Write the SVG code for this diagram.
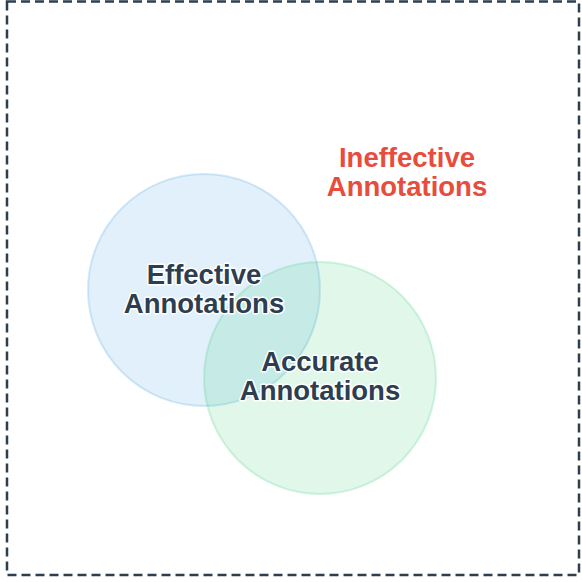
<svg xmlns="http://www.w3.org/2000/svg" width="582" height="582" viewBox="0 0 582 582">
<style>
.lbl{font-family:"Liberation Sans",Arial,sans-serif;font-weight:bold;font-size:27.5px;text-anchor:middle;fill:#2c3e50;stroke:#ffffff;stroke-width:3;paint-order:stroke;stroke-linejoin:round}
.red{fill:#e74c3c;stroke:none}
</style>
<rect x="0" y="0" width="582" height="582" fill="#ffffff"/>
<g id="frame"><rect x="7" y="1.5" width="572" height="573.5" fill="none" stroke="#2c3e50" stroke-width="2.5" stroke-dasharray="9,5"/></g>
<g id="effective">
<circle cx="204" cy="290" r="116" fill="#3498db" fill-opacity="0.15" stroke="#3498db" stroke-opacity="0.2" stroke-width="2"/>
</g>
<g id="accurate">
<circle cx="320" cy="378" r="116" fill="#2ecc71" fill-opacity="0.15" stroke="#2ecc71" stroke-opacity="0.2" stroke-width="2"/>
</g>
<g id="labels">
<text class="lbl" x="204" y="284">Effective</text>
<text class="lbl" x="204" y="313">Annotations</text>
<text class="lbl" x="320" y="371">Accurate</text>
<text class="lbl" x="320" y="400">Annotations</text>
</g>
<g id="ineffective">
<text class="lbl red" x="407" y="167">Ineffective</text>
<text class="lbl red" x="407" y="196">Annotations</text>
</g>
</svg>
